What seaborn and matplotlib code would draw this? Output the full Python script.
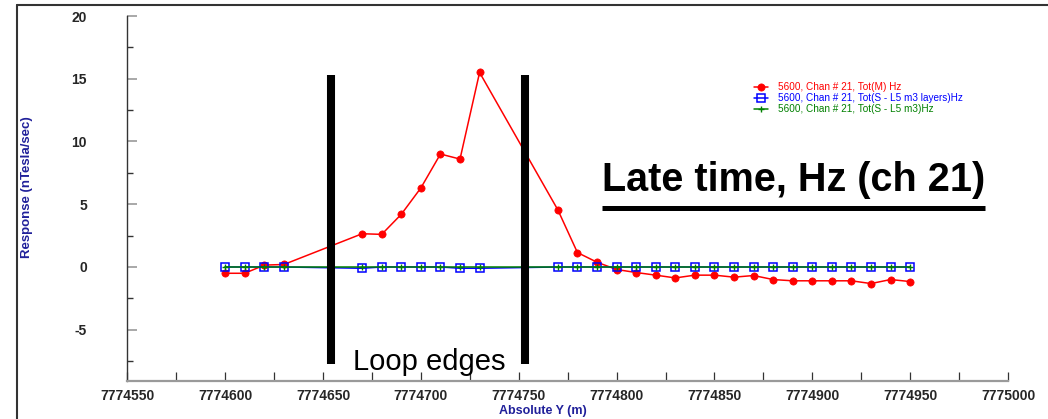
import matplotlib
matplotlib.use("Agg")
import matplotlib.pyplot as plt
from matplotlib.lines import Line2D
from matplotlib.ticker import MultipleLocator
import numpy as np
import pandas as pd
import seaborn as sns

# Station positions (Absolute Y, m)
station_y = [7774600, 7774610, 7774620, 7774630,
             7774670, 7774680, 7774690, 7774700, 7774710, 7774720, 7774730,
             7774770, 7774780, 7774790, 7774800, 7774810, 7774820, 7774830,
             7774840, 7774850, 7774860, 7774870, 7774880, 7774890, 7774900,
             7774910, 7774920, 7774930, 7774940, 7774950]

# Late-time Hz response, channel 21 (nT/s)
tot_m = [-0.5, -0.5, 0.15, 0.2,
         2.65, 2.6, 4.2, 6.3, 9.0, 8.6, 15.5,
         4.55, 1.15, 0.38, -0.2, -0.44, -0.65, -0.87, -0.65, -0.65, -0.81,
         -0.68, -1.0, -1.1, -1.1, -1.1, -1.1, -1.32, -1.0, -1.16]
tot_s_layers = [0.0, 0.0, 0.0, 0.0,
                -0.1, 0.0, 0.0, 0.0, 0.0, -0.1, -0.1,
                0.0, 0.0, 0.0, 0.0, 0.0, 0.0, 0.0, 0.0, 0.0, 0.0,
                0.0, 0.0, 0.0, 0.0, 0.0, 0.0, 0.0, 0.0, 0.0]
tot_s = [0.0] * len(station_y)

series_labels = ["5600, Chan # 21, Tot(M) Hz",
                 "5600, Chan # 21, Tot(S - L5 m3 layers)Hz",
                 "5600, Chan # 21, Tot(S - L5 m3)Hz"]

# Transmitter loop edge positions (m)
loop_edges = [7774654, 7774753]

sns.set_style("white")
plt.rcParams["font.family"] = ["Liberation Sans", "DejaVu Sans"]
plt.rcParams["axes.unicode_minus"] = False

W, H = 1048, 419
fig = plt.figure(figsize=(W / 100, H / 100), dpi=100)
ax = fig.add_axes([127.3 / W, 1 - 380.7 / H, (1008 - 127.3) / W, (380.7 - 16) / H])

df = pd.DataFrame({"y": station_y, "m": tot_m, "sl": tot_s_layers, "s": tot_s})

sns.lineplot(data=df, x="y", y="m", ax=ax, color="#ff0000", linewidth=1.1,
             marker="o", markersize=5.2, markerfacecolor="#ff0000",
             markeredgecolor="#ff0000", markeredgewidth=0.5,
             label=series_labels[0], zorder=3)
sns.lineplot(data=df, x="y", y="sl", ax=ax, color="#0000ff", linewidth=1.1,
             marker="s", markersize=5.6, markerfacecolor="none",
             markeredgecolor="#0000ff", markeredgewidth=1.1,
             label=series_labels[1], zorder=4)
sns.lineplot(data=df, x="y", y="s", ax=ax, color="#008000", linewidth=1.1,
             marker="+", markersize=5.0, markeredgecolor="#008000",
             markeredgewidth=1.0, label=series_labels[2], zorder=5)

# Loop edge markers
ax.vlines(loop_edges, -7.7, 15.3, color="black", linewidth=5.8, zorder=10)

ax.set_xlim(7774550, 7775000)
ax.set_ylim(-9.06, 20)
ax.xaxis.set_major_locator(MultipleLocator(50))
ax.xaxis.set_minor_locator(MultipleLocator(25))
ax.yaxis.set_major_locator(MultipleLocator(5))
ax.yaxis.set_minor_locator(MultipleLocator(2.5))
ax.ticklabel_format(axis="x", useOffset=False, style="plain")

for s in ["top", "right"]:
    ax.spines[s].set_visible(False)
ax.spines["left"].set_color("#333333")
ax.spines["left"].set_linewidth(1.0)
ax.spines["bottom"].set_color("#9a9a9a")
ax.spines["bottom"].set_linewidth(1.6)

ax.tick_params(axis="y", which="major", direction="in", length=7.2, width=1.2,
               color="#9a9a9a", pad=29, labelsize=10)
ax.tick_params(axis="y", which="minor", direction="in", length=4.3, width=1.0,
               color="#333333")
ax.tick_params(axis="x", which="both", direction="in", length=6.5, width=0.9,
               color="#333333", pad=6, labelsize=10)
for lab in ax.get_xticklabels() + ax.get_yticklabels():
    lab.set_fontweight("bold")
ax.tick_params(bottom=True, left=True, which="both")

label_color = "#20209a"
ax.set_xlabel("Absolute Y (m)", fontsize=9, fontweight="bold", color=label_color)
ax.set_ylabel("Response (nTesla/sec)", fontsize=9.5, fontweight="bold", color=label_color)
ax.xaxis.set_label_coords(0.472, -0.082)
ax.xaxis.label.set_verticalalignment("center")
ax.yaxis.set_label_coords(-0.1139, 0.531)
ax.yaxis.label.set_verticalalignment("center")

leg = ax.legend(loc="upper left", bbox_to_anchor=(754 / W, 1 - 82 / H),
                bbox_transform=fig.transFigure, frameon=False, fontsize=7.2,
                handlelength=1.4, handletextpad=1.0, labelspacing=0.12,
                borderpad=0, borderaxespad=0)
for txt, c in zip(leg.get_texts(), ["#ff0000", "#0000ff", "#008000"]):
    txt.set_color(c)

# Annotations
title = fig.text(602 / W, 1 - 191 / H, "Late time, Hz (ch 21)", fontsize=28.5,
                 fontweight="bold", color="black", ha="left", va="baseline")
fig.text(353 / W, 1 - 370 / H, "Loop edges", fontsize=21, color="black",
         ha="left", va="baseline", zorder=11)

fig.canvas.draw()
bb = title.get_window_extent()
uy = 1 - 207.7 / H
fig.add_artist(Line2D([bb.x0 / W, bb.x1 / W], [uy, uy], transform=fig.transFigure,
                      color="black", linewidth=3.6, solid_capstyle="butt"))

# Outer frame
fig.add_artist(Line2D([17 / W, 17 / W], [0, 1 - 5 / H], transform=fig.transFigure,
                      color="#333333", linewidth=1.5))
fig.add_artist(Line2D([17 / W, 1], [1 - 5 / H, 1 - 5 / H], transform=fig.transFigure,
                      color="#333333", linewidth=1.5))

fig.savefig("out.png", dpi=100)
